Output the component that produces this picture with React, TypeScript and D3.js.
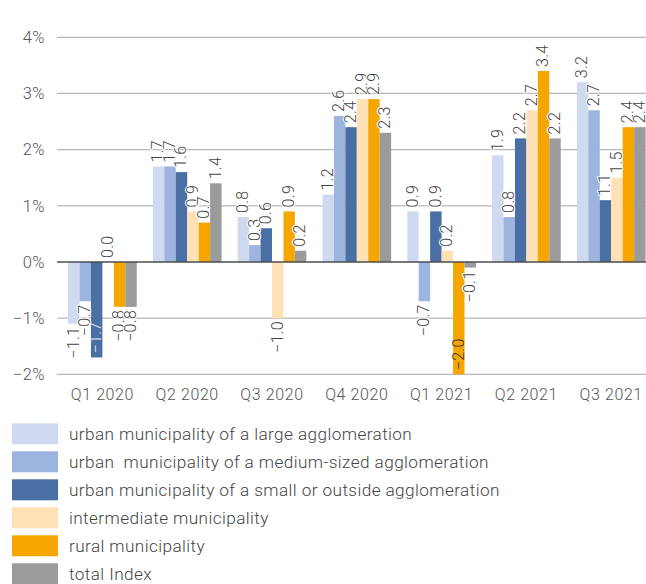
import * as d3 from "d3";
import { useEffect, useRef } from "react";

const categories = ["Q1 2020", "Q2 2020", "Q3 2020", "Q4 2020", "Q1 2021", "Q2 2021", "Q3 2021"];
const seriesNames = [
  "urban municipality of a large agglomeration",
  "urban  municipality of a medium-sized agglomeration",
  "urban municipality of a small or outside agglomeration",
  "intermediate municipality",
  "rural municipality",
  "total Index",
];
const largeAgglo = [-1.1, 1.7, 0.8, 1.2, 0.9, 1.9, 3.2];
const mediumAgglo = [-0.7, 1.7, 0.3, 2.6, -0.7, 0.8, 2.7];
const smallAgglo = [-1.7, 1.6, 0.6, 2.4, 0.9, 2.2, 1.1];
const intermediate = [0.0, 0.9, -1.0, 2.9, 0.2, 2.7, 1.5];
const rural = [-0.8, 0.7, 0.9, 2.9, -2.0, 3.4, 2.4];
const totalIndex = [-0.8, 1.4, 0.2, 2.3, -0.1, 2.2, 2.4];
const yTicks = [-2, -1, 0, 1, 2, 3, 4];

const seriesValues = [largeAgglo, mediumAgglo, smallAgglo, intermediate, rural, totalIndex];
const colors = ["#cfdaf0", "#9db5de", "#4a6fa5", "#fee1b4", "#f5a700", "#9b9b9b"];
const darkFill = [false, false, true, false, false, false];

const fmt = (v: number) => (v < 0 ? "\u2212" : "") + Math.abs(v).toFixed(1);

const App = () => {
  const svgRef = useRef<SVGSVGElement>(null);

  useEffect(() => {
    const svg = d3.select(svgRef.current);
    svg.selectAll("*").remove();

    const width = 646;
    const height = 584;
    const font = "Roboto, 'Noto Sans', sans-serif";

    svg.attr("width", width).attr("height", height);

    const y = d3.scaleLinear().domain([-2, 4]).range([374.3, 37.3]);
    const x0 = d3.scaleBand<string>().domain(categories).range([60, 653.6]).paddingInner(0.19).paddingOuter(0.095);
    const x1 = d3.scaleBand<number>().domain(d3.range(seriesNames.length)).range([0, x0.bandwidth()]);

    // grid
    svg
      .append("g")
      .selectAll("line")
      .data(yTicks.filter((t) => t !== 0))
      .enter()
      .append("line")
      .attr("x1", 57)
      .attr("x2", width)
      .attr("y1", (d) => y(d))
      .attr("y2", (d) => y(d))
      .attr("stroke", "#b9b9b9")
      .attr("stroke-width", 1.2);

    // y labels
    svg
      .append("g")
      .selectAll("text")
      .data(yTicks)
      .enter()
      .append("text")
      .attr("x", 45)
      .attr("y", (d) => y(d))
      .attr("dy", "0.35em")
      .attr("text-anchor", "end")
      .style("font-family", font)
      .style("font-weight", 300)
      .style("font-size", "16.5px")
      .style("letter-spacing", "0.5px")
      .attr("fill", "#555")
      .text((d) => (d < 0 ? "\u2212" : "") + Math.abs(d) + "%");

    // bars
    const groups = svg
      .append("g")
      .selectAll("g")
      .data(categories)
      .enter()
      .append("g")
      .attr("transform", (d) => `translate(${x0(d)},0)`);

    groups
      .selectAll("rect")
      .data((_, ci) => seriesValues.map((s, si) => ({ si, v: s[ci] })))
      .enter()
      .append("rect")
      .attr("x", (d) => x1(d.si)!)
      .attr("width", x1.bandwidth())
      .attr("y", (d) => y(Math.max(0, d.v)))
      .attr("height", (d) => Math.abs(y(d.v) - y(0)))
      .attr("fill", (d) => colors[d.si]);

    // zero line
    svg
      .append("line")
      .attr("x1", 57)
      .attr("x2", width)
      .attr("y1", y(0))
      .attr("y2", y(0))
      .attr("stroke", "#4d4d4d")
      .attr("stroke-width", 1.5);

    // value labels
    const labelSize = 16;
    const plotBottom = y(-2);
    groups
      .selectAll("text.val")
      .data((_, ci) => seriesValues.map((s, si) => ({ si, v: s[ci] })))
      .enter()
      .append("text")
      .attr("class", "val")
      .each(function (d) {
        const t = d3.select(this);
        const cx = x1(d.si)! + x1.bandwidth() / 2;
        const label = fmt(d.v);
        const estLen = label.length * labelSize * 0.55;
        let py: number;
        let anchor: string;
        let fill = "#444";
        let outline = true;
        if (d.v >= 0) {
          py = y(d.v) - 4;
          anchor = "start";
        } else if (y(d.v) + 3 + estLen > plotBottom) {
          // does not fit under the bar, put it inside
          py = Math.min(plotBottom, y(d.v)) - 4;
          anchor = "start";
          fill = darkFill[d.si] ? "#eeeeee" : "#333";
          outline = false;
        } else {
          py = y(d.v) + 3;
          anchor = "end";
        }
        t.attr("transform", `translate(${cx},${py}) rotate(-90)`)
          .attr("dy", "0.3em")
          .attr("text-anchor", anchor)
          .style("font-family", font)
          .style("font-weight", 300)
          .style("font-size", `${labelSize}px`)
          .style("letter-spacing", "0.3px")
          .attr("fill", fill)
          .attr("stroke", outline ? "#fff" : "none")
          .attr("stroke-width", 2)
          .attr("paint-order", "stroke")
          .text(label);
      });

    // category labels
    svg
      .append("g")
      .selectAll("text")
      .data(categories)
      .enter()
      .append("text")
      .attr("x", (d) => x0(d)! + x0.bandwidth() / 2)
      .attr("y", 400)
      .attr("text-anchor", "middle")
      .style("font-family", font)
      .style("font-weight", 300)
      .style("font-size", "16px")
      .style("letter-spacing", "0.6px")
      .attr("fill", "#555")
      .text((d) => d);

    // legend
    const legend = svg
      .append("g")
      .selectAll("g")
      .data(seriesNames)
      .enter()
      .append("g")
      .attr("transform", (_, i) => `translate(12,${423.3 + i * 28})`);

    legend
      .append("rect")
      .attr("width", 46)
      .attr("height", 21)
      .attr("fill", (_, i) => colors[i]);

    legend
      .append("text")
      .attr("x", 57)
      .attr("y", 10.5)
      .attr("dy", "0.35em")
      .attr("xml:space", "preserve")
      .style("white-space", "pre")
      .style("font-family", font)
      .style("font-weight", 300)
      .style("font-size", "17.2px")
      .style("letter-spacing", "0.4px")
      .attr("fill", "#444")
      .text((d) => d);
  }, []);

  return <svg ref={svgRef} style={{ position: "absolute", left: 0, top: 0 }}></svg>;
};

export default App;
